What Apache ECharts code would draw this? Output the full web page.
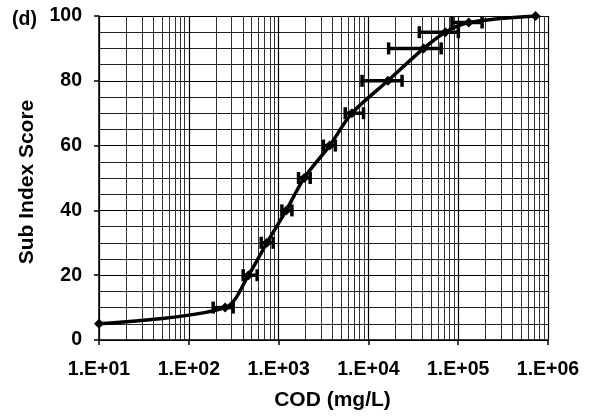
<!DOCTYPE html>
<html>
<head>
<meta charset="utf-8">
<script src="https://cdn.jsdelivr.net/npm/echarts@6/dist/echarts.min.js"></script>
<style>
  html, body { margin: 0; padding: 0; background: #fff; }
  #chart { width: 590px; height: 419px; }
</style>
</head>
<body>
<div id="chart"></div>
<script>
// COD concentration (mg/L) vs sub index score
const codValues = [10, 254, 462, 740, 1216, 1928, 3700, 6560, 16500, 41300, 71900, 131000, 726000];
const scores = [5, 10, 20, 30, 40, 50, 60, 70, 80, 90, 95, 98, 100];
const errLow = [null, 187, 403, 640, 1088, 1667, 3150, 5520, 8500, 16800, 36900, 85300, null];
const errHigh = [null, 312, 577, 871, 1406, 2249, 4290, 8830, 23700, 64600, 100400, 184500, null];
const decades = [10, 100, 1000, 10000, 100000, 1000000];

const font = 'Liberation Sans, Arial, sans-serif';

// minor vertical grid lines at 2..9 of each decade
const minorX = [];
decades.slice(0, -1).forEach(d => {
  for (let k = 2; k <= 9; k++) minorX.push({ xAxis: d * k });
});

const lineData = codValues.map((v, i) => [v, scores[i]]);
const errData = [];
codValues.forEach((v, i) => {
  if (errLow[i] != null) errData.push([v, scores[i], errLow[i], errHigh[i]]);
});

const chart = echarts.init(document.getElementById('chart'));
chart.setOption({
  animation: false,
  backgroundColor: '#fff',
  grid: { left: 99, right: 42, top: 16, bottom: 79 },
  graphic: [
    {
      type: 'text', left: 12, top: 10,
      style: { text: '(d)', font: 'bold 19.5px ' + font, fill: '#000' }
    }
  ],
  xAxis: {
    type: 'log',
    logBase: 10,
    min: 10,
    max: 1000000,
    name: 'COD (mg/L)',
    nameLocation: 'middle',
    nameGap: 50,
    nameTextStyle: { fontFamily: font, fontWeight: 'bold', fontSize: 21, color: '#000', padding: [0, 0, 0, 18] },
    axisLine: { lineStyle: { color: '#000', width: 1.5 } },
    axisTick: { show: true, length: 5, lineStyle: { color: '#000', width: 1.5 } },
    axisLabel: {
      fontFamily: font, fontWeight: 'bold', fontSize: 19.5, color: '#000', margin: 20,
      formatter: v => {
        const e = Math.round(Math.log10(v));
        return '1.E+' + (e < 10 ? '0' + e : e);
      }
    },
    splitLine: { show: true, lineStyle: { color: '#000', width: 1.2 } }
  },
  yAxis: {
    type: 'value',
    min: 0,
    max: 100,
    interval: 20,
    name: 'Sub Index Score',
    nameLocation: 'middle',
    nameGap: 61,
    nameTextStyle: { fontFamily: font, fontWeight: 'bold', fontSize: 21, color: '#000', padding: [0, 8, 0, 0] },
    axisLine: { show: true, lineStyle: { color: '#000', width: 1.5 } },
    axisTick: { show: true, length: 5, lineStyle: { color: '#000', width: 1.5 } },
    axisLabel: { fontFamily: font, fontWeight: 'bold', fontSize: 19.5, color: '#000', margin: 17 },
    splitLine: { show: true, lineStyle: { color: '#000', width: 1.2 } },
    minorTick: { show: false, splitNumber: 4 },
    minorSplitLine: { show: true, lineStyle: { color: '#222', width: 1 } }
  },
  series: [
    {
      type: 'line',
      data: [],
      silent: true,
      markLine: {
        silent: true,
        symbol: 'none',
        label: { show: false },
        lineStyle: { type: 'solid', color: '#333', width: 1 },
        data: minorX
      }
    },
    {
      type: 'line',
      data: lineData,
      smooth: 0.3,
      symbol: 'diamond',
      symbolSize: 10,
      itemStyle: { color: '#000' },
      lineStyle: { color: '#000', width: 3.5 },
      z: 5
    },
    {
      type: 'custom',
      data: errData,
      encode: { x: 0, y: 1 },
      z: 6,
      renderItem: (params, api) => {
        const y = api.value(1);
        const lo = api.coord([api.value(2), y]);
        const hi = api.coord([api.value(3), y]);
        const h = 6;
        const style = { stroke: '#000', lineWidth: 3.5 };
        return {
          type: 'group',
          children: [
            { type: 'line', shape: { x1: lo[0], y1: lo[1], x2: hi[0], y2: hi[1] }, style },
            { type: 'line', shape: { x1: lo[0], y1: lo[1] - h, x2: lo[0], y2: lo[1] + h }, style },
            { type: 'line', shape: { x1: hi[0], y1: hi[1] - h, x2: hi[0], y2: hi[1] + h }, style }
          ]
        };
      }
    }
  ]
});
</script>
</body>
</html>
